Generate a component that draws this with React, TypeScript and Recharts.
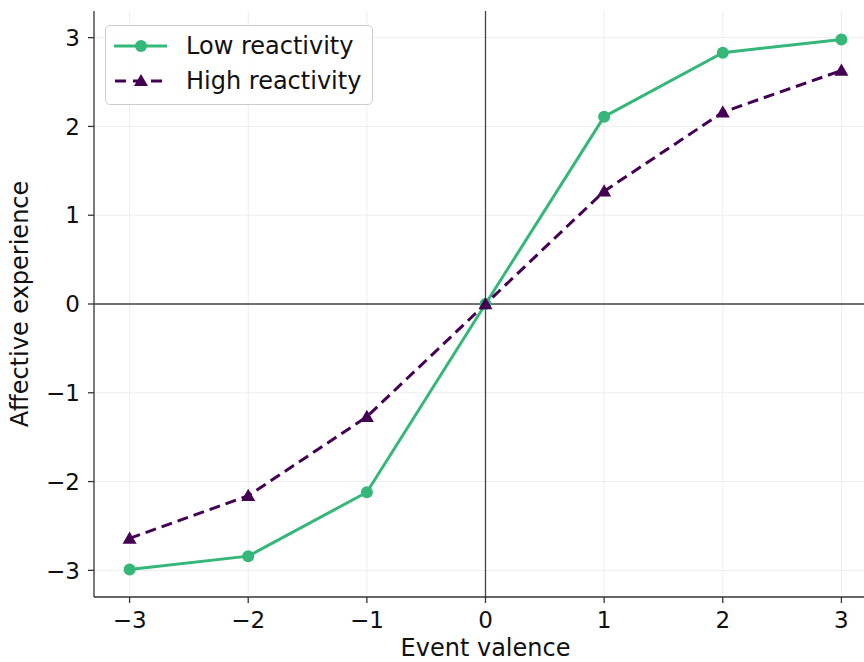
import { LineChart, Line, XAxis, YAxis, CartesianGrid, ReferenceLine } from 'recharts';

const valence = [-3, -2, -1, 0, 1, 2, 3];
const lowReactivity = [-2.99, -2.84, -2.12, 0, 2.11, 2.83, 2.98];
const highReactivity = [-2.64, -2.16, -1.27, 0, 1.27, 2.16, 2.63];
const tickValues = [-3, -2, -1, 0, 1, 2, 3];

const GREEN = '#35b779';
const PURPLE = '#440154';
const FONT = 'DejaVu Sans, sans-serif';

const rows = valence.map((v, i) => ({ x: v, low: lowReactivity[i], high: highReactivity[i] }));

const fmt = (v: number) => (v < 0 ? `\u2212${Math.abs(v)}` : `${v}`);

function Triangle(props: any) {
  const { cx, cy } = props;
  if (cx == null || cy == null) return null;
  const s = 7;
  return (
    <polygon
      points={`${cx},${cy - s} ${cx - s},${cy + s * 0.75} ${cx + s},${cy + s * 0.75}`}
      fill={PURPLE}
    />
  );
}

// legend drawn as a plain overlay, matplotlib style box top-left
function LegendBox() {
  return (
    <div
      style={{
        position: 'absolute',
        left: 105,
        top: 25,
        width: 268,
        height: 80,
        border: '1px solid #cccccc',
        borderRadius: 5,
        background: 'rgba(255,255,255,0.85)',
        fontFamily: FONT,
        fontSize: 24,
        color: '#111',
        boxSizing: 'border-box',
      }}
    >
      <svg width={70} height={80} style={{ position: 'absolute', left: 7, top: -1 }}>
        <line x1={1} y1={21} x2={54} y2={21} stroke={GREEN} strokeWidth={3} />
        <circle cx={28} cy={21} r={6} fill={GREEN} />
        <line x1={1} y1={56} x2={54} y2={56} stroke={PURPLE} strokeWidth={3} strokeDasharray="11 7" strokeDashoffset={-1} />
        <polygon points="28,49 21,61 35,61" fill={PURPLE} />
      </svg>
      <span style={{ position: 'absolute', left: 80, top: 5, lineHeight: '30px', whiteSpace: 'nowrap' }}>Low reactivity</span>
      <span style={{ position: 'absolute', left: 80, top: 40, lineHeight: '30px', whiteSpace: 'nowrap' }}>High reactivity</span>
    </div>
  );
}

export default function App() {
  return (
    <div style={{ position: 'absolute', left: 0, top: 0, width: 864, height: 662, overflow: 'hidden', background: '#fff' }}>
      <LineChart width={880} height={662} data={rows} margin={{ top: 11, right: 3, bottom: 0, left: 0 }}>
        <CartesianGrid
          stroke="#eeeeee"
          strokeWidth={1}
          verticalValues={tickValues}
          horizontalValues={tickValues}
        />
        <XAxis
          dataKey="x"
          type="number"
          domain={[-3.3, 3.3]}
          ticks={tickValues}
          allowDataOverflow
          tickFormatter={fmt}
          height={65}
          tickSize={6}
          tickMargin={9}
          axisLine={{ stroke: '#333', strokeWidth: 1.3 }}
          tickLine={{ stroke: '#333', strokeWidth: 1.3 }}
          tick={{ fill: '#111', fontSize: 23, fontFamily: FONT }}
          label={{ value: 'Event valence', position: 'insideBottom', offset: 6, fill: '#111', fontSize: 24, fontFamily: FONT }}
        />
        <YAxis
          type="number"
          domain={[-3.3, 3.3]}
          ticks={tickValues}
          allowDataOverflow
          tickFormatter={fmt}
          width={94}
          tickSize={6}
          tickMargin={8}
          axisLine={{ stroke: '#333', strokeWidth: 1.3 }}
          tickLine={{ stroke: '#333', strokeWidth: 1.3 }}
          tick={{ fill: '#111', fontSize: 23, fontFamily: FONT }}
          label={{ value: 'Affective experience', angle: -90, position: 'center', dx: -28, fill: '#111', fontSize: 24, fontFamily: FONT }}
        />
        <ReferenceLine x={0} stroke="#444" strokeWidth={1.3} />
        <ReferenceLine y={0} stroke="#444" strokeWidth={1.3} />
        <Line
          dataKey="low"
          name="Low reactivity"
          stroke={GREEN}
          strokeWidth={3}
          dot={{ r: 6, fill: GREEN, stroke: GREEN, strokeWidth: 0 }}
          activeDot={false}
          isAnimationActive={false}
        />
        <Line
          dataKey="high"
          name="High reactivity"
          stroke={PURPLE}
          strokeWidth={3}
          strokeDasharray="11 6"
          dot={<Triangle />}
          activeDot={false}
          isAnimationActive={false}
        />
      </LineChart>
      <LegendBox />
    </div>
  );
}
